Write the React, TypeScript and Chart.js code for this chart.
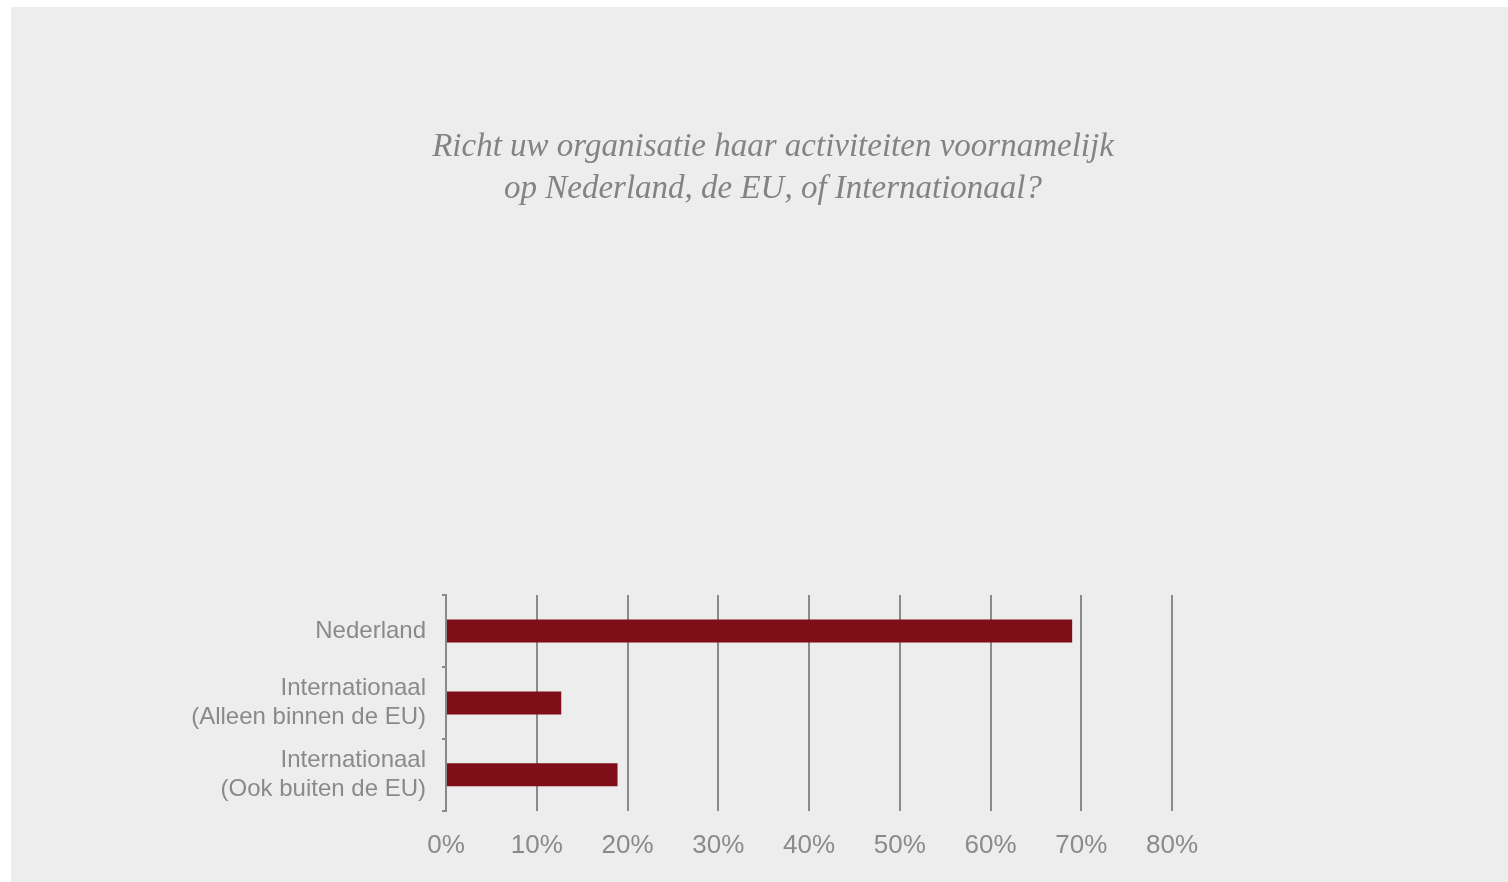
import React, { useEffect, useRef } from "react";
import { Chart, registerables } from "chart.js";

Chart.register(...registerables);

const categories: (string | string[])[] = [
  "Nederland",
  ["Internationaal", "(Alleen binnen de EU)"],
  ["Internationaal", "(Ook buiten de EU)"],
];
const values: number[] = [69.0, 12.7, 18.9];
const titleLines: string[] = [
  "Richt uw organisatie haar activiteiten voornamelijk",
  "op Nederland, de EU, of Internationaal?",
];
const xMin = 0;
const xMax = 80;
const xStep = 10;

const GRAY = "#8a8a8a";
const BAR = "#7f0e18";

const titlePlugin = {
  id: "customTitle",
  afterDraw(chart: any) {
    const ctx = chart.ctx;
    ctx.save();
    ctx.fillStyle = "#838383";
    ctx.font = "italic normal 33px 'Liberation Serif', serif";
    ctx.textAlign = "center";
    ctx.textBaseline = "alphabetic";
    const cx = 762;
    titleLines.forEach((line, i) => {
      ctx.fillText(line, cx, 149 + i * 42);
    });
    ctx.restore();
  },
};

export default function App() {
  const ref = useRef<HTMLCanvasElement | null>(null);
  useEffect(() => {
    if (!ref.current) return;
    const chart = new Chart(ref.current, {
      type: "bar",
      data: {
        labels: categories,
        datasets: [
          {
            data: values,
            backgroundColor: BAR,
            borderWidth: 0,
            barPercentage: 0.32,
            categoryPercentage: 1,
          },
        ],
      },
      plugins: [titlePlugin],
      options: {
        indexAxis: "y",
        animation: false,
        responsive: false,
        maintainAspectRatio: false,
        layout: { padding: { left: 0, right: 336, top: 588, bottom: 2 } },
        plugins: {
          legend: { display: false },
          tooltip: { enabled: false },
          title: { display: false },
        },
        scales: {
          x: {
            min: xMin,
            max: xMax,
            ticks: {
              stepSize: xStep,
              color: GRAY,
              padding: 19,
              font: { family: "'Liberation Sans', Arial, sans-serif", size: 26 },
              callback: (v: any) => `${v}%`,
            },
            grid: { color: GRAY, lineWidth: 2, drawTicks: false },
            border: { display: false },
          },
          y: {
            afterFit: (scale: any) => {
              scale.width = 435;
            },
            ticks: {
              color: GRAY,
              padding: 16,
              autoSkip: false,
              font: { family: "'Liberation Sans', Arial, sans-serif", size: 24, lineHeight: 1.2 },
            },
            grid: {
              drawOnChartArea: false,
              drawTicks: true,
              tickLength: 4,
              color: GRAY,
              lineWidth: 2,
            },
            border: { display: true, color: GRAY, width: 2 },
          },
        },
      },
    });
    return () => chart.destroy();
  }, []);
  return (
    <div
      style={{
        position: "absolute",
        left: 11,
        top: 7,
        width: 1497,
        height: 875,
        background: "#ededed",
      }}
    >
      <canvas ref={ref} width={1497} height={875} style={{ display: "block" }} />
    </div>
  );
}
